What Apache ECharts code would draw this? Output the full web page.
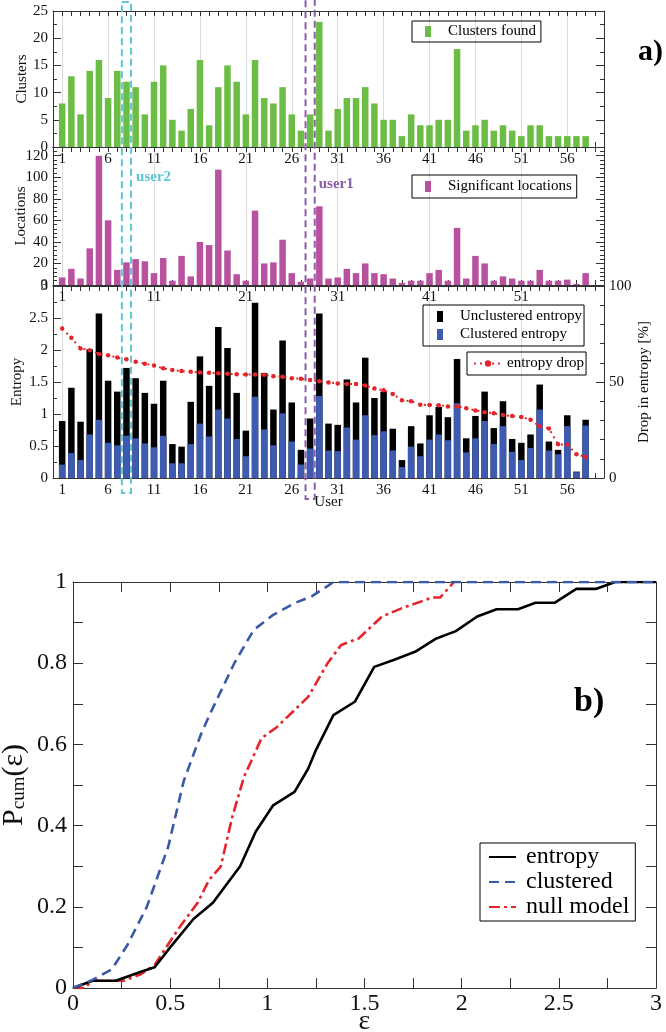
<!DOCTYPE html>
<html><head><meta charset="utf-8">
<script src="https://cdn.jsdelivr.net/npm/echarts@6/dist/echarts.min.js"></script>
<style>html,body{margin:0;padding:0;background:#fff}#c{width:666px;height:1032px}</style>
</head><body><div id="c"></div>
<script>
// ---------------- data ----------------
const users = [1,2,3,4,5,6,7,8,9,10,11,12,13,14,15,16,17,18,19,20,21,22,23,24,25,26,27,28,29,30,
  31,32,33,34,35,36,37,38,39,40,41,42,43,44,45,46,47,48,49,50,51,52,53,54,55,56,57,58];
const clusters = [8,13,6,14,16,9,14,12,11,6, 12,15,5,3,7,16,4,11,15,12, 6,16,9,8,11,6,3,6,23,3,
  7,9,9,11,8,5,5,2,6,4, 4,5,5,18,3,4,5,3,4,3, 2,4,4,2,2,2,2,2];
const locations = [7,15,6,34,120,60,14,21,24,22, 11,25,4,27,8,40,37,107,32,10, 4,69,20,21,42,11,3,6,73,6,
  7,15,11,20,11,10,6,2,4,4, 11,14,4,53,6,27,20,4,8,6, 4,4,14,4,4,5,1,11];
const entropyUnclustered = [0.89,1.41,0.88,2.01,2.57,1.52,1.35,1.72,1.56,1.33, 1.16,1.52,0.53,0.49,1.19,1.90,1.44,2.36,2.03,1.33,
  0.74,2.74,1.64,1.07,2.15,1.18,0.44,0.93,2.57,0.85, 0.83,1.54,1.18,1.88,1.25,1.35,0.77,0.28,0.81,0.54,
  0.98,1.11,0.95,1.86,0.62,0.97,1.35,0.78,1.20,0.61, 0.55,0.68,1.46,0.57,0.44,0.98,0.10,0.91];
const entropyClustered = [0.21,0.39,0.28,0.68,0.91,0.55,0.51,0.66,0.62,0.54, 0.48,0.66,0.23,0.23,0.53,0.85,0.65,1.07,0.93,0.61,
  0.34,1.27,0.76,0.51,1.01,0.57,0.21,0.46,1.28,0.43, 0.42,0.79,0.60,0.98,0.67,0.73,0.43,0.17,0.49,0.34,
  0.60,0.68,0.59,1.17,0.40,0.62,0.89,0.53,0.81,0.41, 0.28,0.47,1.07,0.43,0.37,0.81,0.09,0.82];
const entropyDrop = [77.8,73,67.5,66.6,64.6,63.9,62.7,61.8,60.6,59.5, 58.6,57.1,56.2,55.7,55.3,55,54.8,54.5,54.3,54.1,
  53.9,53.9,53.8,53,52.7,52,51.7,51.1,50.4,49.8, 49.2,49,48.9,48.2,46.6,45.7,43.8,40.5,40,38.2,
  38,37.9,37.3,37.3,36.3,35.2,34.2,33.7,32.8,32.3, 31.8,30.4,26.9,25.8,17.6,17.3,12.4,11];
const highlightUsers = [8, 28];
const highlightNames = ['user2', 'user1'];

const epsEntropy = [0,0.1,0.22,0.35,0.42,0.5,0.62,0.72,0.86,0.94,1.03,1.14,1.21,1.25,1.34,1.45,1.55,1.65,1.76,1.87,1.97,2.08,2.18,2.29,2.38,2.48,2.59,2.69,2.79,3.0];
const cdfEntropy = [0,0.018,0.018,0.04,0.051,0.10,0.17,0.21,0.30,0.385,0.45,0.483,0.54,0.586,0.672,0.705,0.791,0.808,0.828,0.861,0.879,0.915,0.933,0.933,0.949,0.949,0.983,0.983,1.0,1.0];
const epsClustered = [0,0.1,0.2,0.28,0.38,0.49,0.57,0.66,0.71,0.83,0.93,1.03,1.14,1.23,1.31,1.34,3.0];
const cdfClustered = [0,0.02,0.046,0.106,0.2,0.348,0.51,0.627,0.68,0.80,0.882,0.919,0.948,0.965,0.99,1.0,1.0];
const epsNull = [0,0.06,0.1,0.26,0.35,0.42,0.55,0.64,0.70,0.76,0.82,0.88,0.97,1.05,1.21,1.31,1.38,1.47,1.59,1.69,1.85,1.89,1.96];
const cdfNull = [0,0,0.018,0.018,0.034,0.057,0.151,0.209,0.266,0.299,0.422,0.52,0.615,0.643,0.717,0.80,0.845,0.861,0.915,0.935,0.962,0.962,1.0];

// ---------------- chart ----------------
const F = 'Liberation Serif';
const COL = {green:'#6cbd45', pink:'#b8519f', black:'#000000', blue:'#3d5cb1', red:'#e3262b',
  cyan:'#5fc6d6', purple:'#8b5ca8', lblue:'#3a5aa8', lred:'#e4252b'};
const cats = Array.from({length:61}, (_, i) => String(i));
const userPair = ys => users.map((u, i) => [String(u), ys[i]]);
const pair = (xs, ys) => xs.map((x, i) => [x, ys[i]]);
const chart = echarts.init(document.getElementById('c'));

const axLine = {show:true, onZero:false, lineStyle:{color:'#333', width:1}};
function xCat(gi, pos, labelStep, gridStep, extra) {
  return Object.assign({
    type:'category', gridIndex:gi, position:pos, data:cats, boundaryGap:false,
    axisLine:axLine,
    axisTick:{show:true, inside:true, interval:0, length:5, lineStyle:{color:'#333'}},
    axisLabel:{show:labelStep > 0, interval:(i) => labelStep > 0 && i >= 1 && (i - 1) % labelStep === 0,
      fontFamily:F, fontSize:15, color:'#111', margin:5},
    splitLine:{show:gridStep > 0, interval:(i) => gridStep > 0 && i >= 1 && i <= 58 && (i - 1) % gridStep === 0,
      lineStyle:{color:'#dcdcdc', width:1}}
  }, extra || {});
}
function yVal(gi, pos, min, max, interval, minorSplit, showLabel, extra) {
  return Object.assign({
    type:'value', gridIndex:gi, position:pos, min:min, max:max, interval:interval,
    axisLine:axLine,
    axisTick:{show:true, inside:true, length:8, lineStyle:{color:'#333'}},
    minorTick:{show:minorSplit > 0, splitNumber:minorSplit || 5, length:4, lineStyle:{color:'#333'}},
    axisLabel:{show:showLabel, fontFamily:F, fontSize:15, color:'#111', margin:5},
    splitLine:{show:false}, minorSplitLine:{show:false}
  }, extra || {});
}
const nameStyle = {fontFamily:F, fontSize:15, color:'#111'};
function axName(name, gap, rotate) {
  const o = {name:name, nameLocation:'middle', nameGap:gap, nameMoveOverlap:false, nameTextStyle:nameStyle};
  if (rotate !== undefined) o.nameRotate = rotate;
  return o;
}

const bX = {
  type:'value', gridIndex:3, min:0, max:3, interval:0.5,
  axisLine:axLine,
  axisTick:{show:true, inside:true, length:10, lineStyle:{color:'#333'}},
  minorTick:{show:true, splitNumber:2, length:10, lineStyle:{color:'#333'}},
  splitLine:{show:false}
};
const bY = {
  type:'value', gridIndex:3, min:0, max:1, interval:0.2,
  axisLine:axLine,
  axisTick:{show:true, inside:true, length:10, lineStyle:{color:'#333'}},
  minorTick:{show:true, splitNumber:2, length:10, lineStyle:{color:'#333'}},
  splitLine:{show:false}
};

function barLegend(names, left, top, padding) {
  return {data:names, left:left, top:top, padding:padding, orient:'vertical',
    borderColor:'#000', borderWidth:1, borderRadius:0, selectedMode:false,
    itemWidth:6, itemHeight:11, icon:'rect', itemGap:3,
    textStyle:{fontFamily:F, fontSize:15, color:'#000', padding:[0,0,0,12]}};
}

const option = {
  animation:false,
  backgroundColor:'#fff',
  grid:[
    {left:53, right:62, top:11, height:136, outerBoundsMode:'none'},
    {left:53, right:62, top:147, height:138, outerBoundsMode:'none'},
    {left:53, right:62, top:286, height:192, outerBoundsMode:'none'},
    {left:73, right:10, top:582, height:406, outerBoundsMode:'none'}
  ],
  xAxis:[
    xCat(0, 'bottom', 5, 5),
    xCat(0, 'top', 0, 0),
    xCat(1, 'bottom', 10, 10),
    xCat(1, 'top', 0, 0),
    xCat(2, 'bottom', 5, 10, axName('User', 17)),
    xCat(2, 'top', 0, 0),
    Object.assign({}, bX, {position:'bottom', axisLabel:{fontFamily:F, fontSize:24, color:'#111', margin:4},
      name:'ε', nameLocation:'middle', nameGap:20, nameMoveOverlap:false, nameTextStyle:{fontFamily:F, fontSize:28, color:'#111'}}),
    Object.assign({}, bX, {position:'top', axisLabel:{show:false}})
  ],
  yAxis:[
    yVal(0, 'left', 0, 25, 5, 2, true, axName('Clusters', 23)),
    yVal(0, 'right', 0, 25, 5, 2, false),
    yVal(1, 'left', 0, 128, 20, 5, true, Object.assign(axName('Locations', 24), {
      axisLabel:{fontFamily:F, fontSize:15, color:'#111', margin:5, showMaxLabel:false, formatter:v => (v % 20 === 0 ? String(v) : '')}})),
    yVal(1, 'right', 0, 128, 20, 5, false),
    yVal(2, 'left', 0, 3, 0.5, 2, true, axName('Entropy', 28)),
    yVal(2, 'right', 0, 100, 50, 5, true, axName('Drop in entropy [%]', 33, 90)),
    Object.assign({}, bY, {position:'left', axisLabel:{fontFamily:F, fontSize:24, color:'#111', margin:6},
      name:'{P|P}{s|cum}{P|(ε)}', nameLocation:'middle', nameGap:44, nameMoveOverlap:false,
      nameTextStyle:{fontFamily:F, color:'#111', rich:{P:{fontFamily:F, fontSize:30, color:'#111'}, s:{fontFamily:F, fontSize:19, color:'#111', verticalAlign:'bottom'}}}}),
    Object.assign({}, bY, {position:'right', axisLabel:{show:false}})
  ],
  legend:[
    barLegend(['Clusters found'], 412, 21, [3,5,3,13]),
    barLegend(['Significant locations'], 412, 175, [4,5,4,13]),
    barLegend(['Unclustered entropy', 'Clustered entropy'], 423, 305, [4,2,4,14]),
    {data:['entropy drop'], left:467, top:352, padding:[4,2,4,6], orient:'vertical',
      borderColor:'#000', borderWidth:1, borderRadius:0, selectedMode:false, itemWidth:28, itemHeight:8,
      textStyle:{fontFamily:F, fontSize:15, color:'#000'}},
    {data:['entropy', 'clustered', 'null model'], left:480, top:843, padding:[2,6,2,8], orient:'vertical',
      borderColor:'#000', borderWidth:1, borderRadius:0, selectedMode:false,
      itemWidth:27, itemHeight:14, itemGap:1, itemStyle:{opacity:0, color:'rgba(0,0,0,0)', borderWidth:0},
      textStyle:{fontFamily:F, fontSize:24, color:'#000', padding:[0,0,0,5]}}
  ],
  series:[
    {name:'Clusters found', type:'bar', xAxisIndex:0, yAxisIndex:0, data:userPair(clusters), barWidth:6.5, itemStyle:{color:COL.green}},
    {name:'Significant locations', type:'bar', xAxisIndex:2, yAxisIndex:2, data:userPair(locations), barWidth:6.5, itemStyle:{color:COL.pink}},
    {name:'Unclustered entropy', type:'bar', xAxisIndex:4, yAxisIndex:4, data:userPair(entropyUnclustered), barWidth:6.5, barGap:'-100%', itemStyle:{color:COL.black}},
    {name:'Clustered entropy', type:'bar', xAxisIndex:4, yAxisIndex:4, data:userPair(entropyClustered), barWidth:6.5, barGap:'-100%', itemStyle:{color:COL.blue}},
    {name:'entropy drop', type:'line', xAxisIndex:4, yAxisIndex:5, data:userPair(entropyDrop),
      symbol:'circle', symbolSize:4.5, itemStyle:{color:COL.red}, lineStyle:{color:COL.red, width:2, type:[2,4]}},
    {name:'null model', type:'line', xAxisIndex:6, yAxisIndex:6, data:pair(epsNull, cdfNull), symbol:'none', showSymbol:false,
      itemStyle:{color:COL.lred}, lineStyle:{color:COL.lred, width:2.6, type:[11,4,3,4]}},
    {name:'entropy', type:'line', xAxisIndex:6, yAxisIndex:6, data:pair(epsEntropy, cdfEntropy), symbol:'none', showSymbol:false,
      itemStyle:{color:'#000'}, lineStyle:{color:'#000', width:2.6}},
    {name:'clustered', type:'line', xAxisIndex:6, yAxisIndex:6, data:pair(epsClustered, cdfClustered), symbol:'none', showSymbol:false,
      itemStyle:{color:COL.lblue}, lineStyle:{color:COL.lblue, width:2.6, type:[10,6]}}
  ]
};
chart.setOption(option);

// annotations: highlighted users (dashed boxes spanning panel a) and panel letters
const px = u => chart.convertToPixel({xAxisIndex:0}, String(u));
const half = (px(2) - px(1)) / 2;
const boxStyle = [
  {color:COL.cyan, top:2, bottom:493, labelDx:5, labelY:177},
  {color:COL.purple, top:-3, bottom:499, labelDx:4, labelY:184}
];
const gfx = [];
highlightUsers.forEach((u, i) => {
  const s = boxStyle[i];
  const cx = px(u);
  gfx.push({type:'rect', z:100, shape:{x:cx - half, y:s.top, width:2 * half, height:s.bottom - s.top},
    style:{fill:'none', stroke:s.color, lineWidth:2, lineDash:[7,4]}});
  gfx.push({type:'text', z:100, x:cx + half + s.labelDx, y:s.labelY,
    style:{text:highlightNames[i], fill:s.color, font:'bold 15px "Liberation Serif"', textAlign:'left', textVerticalAlign:'middle', align:'left', verticalAlign:'middle'}});
});
gfx.push({type:'text', z:100, x:638, y:52, style:{text:'a)', fill:'#000', font:'bold 30px "Liberation Serif"', textAlign:'left', textVerticalAlign:'middle', align:'left', verticalAlign:'middle'}});
gfx.push({type:'text', z:100, x:574, y:702, style:{text:'b)', fill:'#000', font:'bold 34px "Liberation Serif"', textAlign:'left', textVerticalAlign:'middle', align:'left', verticalAlign:'middle'}});
chart.setOption({graphic:gfx});
</script>
</body></html>
